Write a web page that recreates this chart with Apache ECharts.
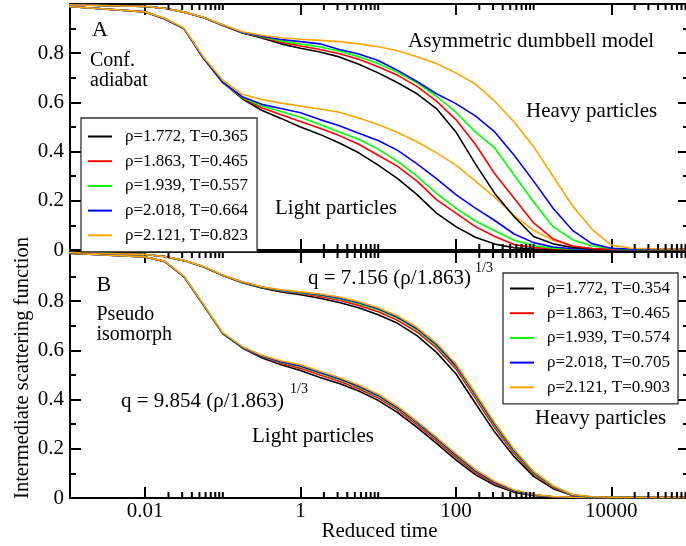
<!DOCTYPE html>
<html><head><meta charset="utf-8">
<script src="https://cdn.jsdelivr.net/npm/echarts@6/dist/echarts.min.js"></script>
<style>html,body{margin:0;padding:0;background:#fff}#c{width:686px;height:546px}</style>
</head><body><div id="c"></div>
<script>
// ---------------- data ----------------
const times = [0.001, 0.01, 0.0178, 0.0316, 0.0562, 0.1, 0.178, 0.316, 0.562, 1, 1.78, 3.16, 5.62, 10, 17.8, 31.6, 56.2, 100, 178, 316, 562, 1000, 1780, 3160, 5620, 10000, 17800, 100000];

const namesA = ['ρ=1.772, T=0.365', 'ρ=1.863, T=0.465', 'ρ=1.939, T=0.557', 'ρ=2.018, T=0.664', 'ρ=2.121, T=0.823'];
const namesB = ['ρ=1.772, T=0.354', 'ρ=1.863, T=0.465', 'ρ=1.939, T=0.574', 'ρ=2.018, T=0.705', 'ρ=2.121, T=0.903'];
const colors = ['#000000', '#ff0000', '#00ff00', '#0000ff', '#ffa500'];

// Panel A (configurational adiabat) - light particles
const aLightBlack  = [0.990, 0.968, 0.940, 0.900, 0.780, 0.680, 0.615, 0.568, 0.535, 0.500, 0.470, 0.435, 0.395, 0.345, 0.290, 0.225, 0.150, 0.095, 0.052, 0.024, 0.009, 0.004, 0.003, 0.002, 0.002, 0.002, 0.002, 0.002];
const aLightRed    = [0.990, 0.968, 0.940, 0.900, 0.780, 0.680, 0.618, 0.578, 0.550, 0.522, 0.495, 0.465, 0.430, 0.385, 0.340, 0.280, 0.205, 0.150, 0.095, 0.055, 0.022, 0.010, 0.005, 0.003, 0.002, 0.002, 0.002, 0.002];
const aLightGreen  = [0.990, 0.968, 0.940, 0.900, 0.780, 0.680, 0.620, 0.585, 0.563, 0.540, 0.510, 0.480, 0.450, 0.410, 0.360, 0.300, 0.230, 0.170, 0.118, 0.078, 0.040, 0.018, 0.007, 0.004, 0.003, 0.002, 0.002, 0.002];
const aLightBlue   = [0.990, 0.968, 0.940, 0.900, 0.780, 0.682, 0.623, 0.592, 0.575, 0.558, 0.530, 0.505, 0.475, 0.445, 0.405, 0.350, 0.290, 0.225, 0.170, 0.120, 0.065, 0.030, 0.012, 0.005, 0.003, 0.002, 0.002, 0.002];
const aLightOrange = [0.990, 0.968, 0.942, 0.902, 0.785, 0.690, 0.633, 0.612, 0.597, 0.585, 0.573, 0.560, 0.537, 0.510, 0.478, 0.440, 0.395, 0.345, 0.280, 0.215, 0.140, 0.080, 0.040, 0.016, 0.006, 0.003, 0.002, 0.002];

// Panel A - heavy particles
const aHeavyBlack  = [0.997, 0.990, 0.983, 0.967, 0.945, 0.913, 0.882, 0.862, 0.838, 0.820, 0.805, 0.785, 0.755, 0.720, 0.680, 0.635, 0.575, 0.480, 0.350, 0.230, 0.135, 0.055, 0.025, 0.010, 0.005, 0.003, 0.003, 0.003];
const aHeavyRed    = [0.997, 0.990, 0.983, 0.967, 0.945, 0.914, 0.883, 0.865, 0.845, 0.829, 0.815, 0.798, 0.775, 0.745, 0.710, 0.665, 0.605, 0.530, 0.430, 0.310, 0.210, 0.110, 0.045, 0.016, 0.006, 0.003, 0.003, 0.003];
const aHeavyGreen  = [0.997, 0.990, 0.983, 0.967, 0.945, 0.915, 0.884, 0.867, 0.850, 0.837, 0.826, 0.808, 0.786, 0.758, 0.722, 0.680, 0.625, 0.560, 0.480, 0.415, 0.305, 0.195, 0.095, 0.042, 0.016, 0.006, 0.003, 0.003];
const aHeavyBlue   = [0.997, 0.990, 0.983, 0.967, 0.945, 0.915, 0.885, 0.869, 0.856, 0.847, 0.838, 0.815, 0.797, 0.770, 0.730, 0.685, 0.635, 0.595, 0.545, 0.480, 0.385, 0.280, 0.170, 0.080, 0.026, 0.007, 0.004, 0.003];
const aHeavyOrange = [0.997, 0.990, 0.983, 0.967, 0.946, 0.916, 0.887, 0.873, 0.863, 0.857, 0.852, 0.847, 0.838, 0.826, 0.810, 0.786, 0.758, 0.720, 0.675, 0.605, 0.520, 0.420, 0.300, 0.180, 0.085, 0.020, 0.007, 0.003];

// Panel B (pseudo isomorph) - light particles
const bLightBlack  = [0.995, 0.980, 0.962, 0.900, 0.785, 0.668, 0.610, 0.570, 0.542, 0.518, 0.490, 0.465, 0.435, 0.397, 0.347, 0.287, 0.222, 0.155, 0.095, 0.052, 0.023, 0.010, 0.004, 0.003, 0.002, 0.002, 0.002, 0.002];
const bLightRed    = [0.995, 0.980, 0.962, 0.900, 0.785, 0.668, 0.612, 0.574, 0.548, 0.527, 0.500, 0.475, 0.444, 0.407, 0.357, 0.297, 0.232, 0.165, 0.102, 0.058, 0.027, 0.011, 0.005, 0.003, 0.002, 0.002, 0.002, 0.002];
const bLightGreen  = [0.995, 0.980, 0.962, 0.900, 0.784, 0.667, 0.612, 0.576, 0.552, 0.534, 0.507, 0.482, 0.451, 0.414, 0.364, 0.304, 0.239, 0.172, 0.108, 0.062, 0.029, 0.012, 0.005, 0.003, 0.002, 0.002, 0.002, 0.002];
const bLightBlue   = [0.995, 0.980, 0.962, 0.900, 0.786, 0.669, 0.613, 0.577, 0.554, 0.537, 0.510, 0.485, 0.454, 0.417, 0.367, 0.307, 0.242, 0.175, 0.111, 0.064, 0.030, 0.013, 0.005, 0.003, 0.002, 0.002, 0.002, 0.002];
const bLightOrange = [0.995, 0.980, 0.963, 0.902, 0.788, 0.672, 0.616, 0.580, 0.558, 0.542, 0.515, 0.490, 0.459, 0.422, 0.372, 0.312, 0.247, 0.180, 0.116, 0.068, 0.033, 0.014, 0.006, 0.003, 0.002, 0.002, 0.002, 0.002];

// Panel B - heavy particles
const bHeavyBlack  = [0.998, 0.990, 0.982, 0.965, 0.940, 0.904, 0.875, 0.854, 0.838, 0.826, 0.812, 0.795, 0.773, 0.745, 0.710, 0.660, 0.592, 0.505, 0.385, 0.268, 0.168, 0.088, 0.038, 0.010, 0.004, 0.003, 0.003, 0.003];
const bHeavyRed    = [0.998, 0.990, 0.982, 0.965, 0.940, 0.905, 0.877, 0.857, 0.842, 0.831, 0.819, 0.804, 0.783, 0.757, 0.722, 0.675, 0.610, 0.525, 0.405, 0.285, 0.180, 0.097, 0.043, 0.011, 0.004, 0.003, 0.003, 0.003];
const bHeavyGreen  = [0.998, 0.990, 0.982, 0.965, 0.940, 0.905, 0.877, 0.857, 0.843, 0.834, 0.824, 0.810, 0.790, 0.765, 0.731, 0.683, 0.618, 0.534, 0.414, 0.294, 0.188, 0.102, 0.046, 0.012, 0.004, 0.003, 0.003, 0.003];
const bHeavyBlue   = [0.998, 0.990, 0.982, 0.965, 0.940, 0.905, 0.878, 0.858, 0.844, 0.836, 0.826, 0.813, 0.794, 0.769, 0.735, 0.688, 0.623, 0.539, 0.420, 0.300, 0.193, 0.105, 0.048, 0.013, 0.004, 0.003, 0.003, 0.003];
const bHeavyOrange = [0.998, 0.990, 0.982, 0.966, 0.941, 0.906, 0.879, 0.859, 0.846, 0.838, 0.829, 0.817, 0.798, 0.773, 0.740, 0.694, 0.630, 0.546, 0.427, 0.306, 0.198, 0.108, 0.050, 0.014, 0.005, 0.003, 0.003, 0.003];

// axes
const xMin = 0.00108, xMax = 100000;
const xTickValues = [0.01, 1, 100, 10000];
const xTickLabels = ['0.01', '1', '100', '10000'];
const xMinorTicks = [0.02, 0.03, 0.04, 0.05, 0.06, 0.07, 0.08, 0.09, 0.1,
                     2, 3, 4, 5, 6, 7, 8, 9, 10,
                     200, 300, 400, 500, 600, 700, 800, 900, 1000,
                     20000, 30000, 40000, 50000, 60000, 70000, 80000, 90000];
const yTickValues = [0, 0.2, 0.4, 0.6, 0.8];
const yTickLabels = ['0', '0.2', '0.4', '0.6', '0.8'];

// ---------------- chart ----------------
const FONT = '"Liberation Serif", "Times New Roman", serif';
const panels = [
  { names: namesA, light: [aLightBlack, aLightRed, aLightGreen, aLightBlue, aLightOrange],
    heavy: [aHeavyBlack, aHeavyRed, aHeavyGreen, aHeavyBlue, aHeavyOrange] },
  { names: namesB, light: [bLightBlack, bLightRed, bLightGreen, bLightBlue, bLightOrange],
    heavy: [bHeavyBlack, bHeavyRed, bHeavyGreen, bHeavyBlue, bHeavyOrange] }
];
const grids = [
  { left: 70, top: 4, width: 619, height: 246, containLabel: false, outerBoundsMode: 'none' },
  { left: 70, top: 252, width: 619, height: 246, containLabel: false, outerBoundsMode: 'none' }
];

function near(a, b) { return Math.abs(a - b) <= 1e-6 * Math.max(1, Math.abs(b)); }
const axisLine = { show: true, onZero: false, lineStyle: { color: '#000', width: 2 } };

const xAxis = [], yAxis = [];
grids.forEach((g, p) => {
  ['bottom', 'top'].forEach(pos => {
    xAxis.push({
      type: 'log', logBase: 100, gridIndex: p, position: pos, min: xMin, max: xMax, splitNumber: 4,
      axisLine: axisLine, splitLine: { show: false },
      axisTick: { show: true, inside: true, length: 11, lineStyle: { color: '#000', width: 2 } },
      minorTick: { show: false },
      axisLabel: {
        show: (p === 1 && pos === 'bottom'), margin: 3, color: '#000', fontFamily: FONT, fontSize: 21,
        formatter: v => { const i = xTickValues.findIndex(t => near(v, t)); return i >= 0 ? xTickLabels[i] : ''; }
      }
    });
  });
  ['left', 'right'].forEach(pos => {
    yAxis.push({
      type: 'value', gridIndex: p, position: pos, min: 0, max: 1, interval: 0.2,
      axisLine: axisLine, splitLine: { show: false },
      axisTick: { show: true, inside: true, length: 11, lineStyle: { color: '#000', width: 2 } },
      minorTick: { show: true, splitNumber: 2, length: 6, lineStyle: { color: '#000', width: 2 } },
      axisLabel: {
        show: pos === 'left', margin: 6, color: '#000', fontFamily: FONT, fontSize: 21,
        formatter: v => { const i = yTickValues.findIndex(t => near(v, t)); return i >= 0 ? yTickLabels[i] : ''; }
      }
    });
  });
});

const series = [];
panels.forEach((pn, p) => {
  ['light', 'heavy'].forEach(set => {
    pn[set].forEach((vals, i) => {
      series.push({
        type: 'line', name: pn.names[i], xAxisIndex: p * 2, yAxisIndex: p * 2,
        data: times.map((t, k) => [t, vals[k]]),
        symbol: 'none', showSymbol: false, smooth: false, animation: false,
        lineStyle: { color: colors[i], width: 1.6 }, itemStyle: { color: colors[i] },
        emphasis: { disabled: true }, z: 3
      });
    });
  });
  series.push({
    type: 'custom', xAxisIndex: p * 2, yAxisIndex: p * 2, silent: true, animation: false, clip: false, z: 5,
    data: xMinorTicks.map(v => [v, 0.5]),
    renderItem: (params, api) => {
      const x = api.value(0);
      const top = api.coord([x, 1]);
      const bot = api.coord([x, 0]);
      const st = { stroke: '#000', lineWidth: 2 };
      return { type: 'group', children: [
        { type: 'line', shape: { x1: top[0], y1: top[1], x2: top[0], y2: top[1] + 6 }, style: st },
        { type: 'line', shape: { x1: bot[0], y1: bot[1], x2: bot[0], y2: bot[1] - 6 }, style: st }
      ] };
    }
  });
});

function txt(text, x, baseline, size, align, extra) {
  return Object.assign({
    type: 'text', x: x, y: baseline - 0.31 * size, z: 20,
    style: { text: text, font: size + 'px ' + FONT, fill: '#000',
             textAlign: align || 'left', textVerticalAlign: 'middle', verticalAlign: 'middle' }
  }, extra || {});
}

const graphic = [
  txt('A', 92, 37.5, 22),
  txt('Conf.', 90, 66.5, 20),
  txt('adiabat', 90, 86.5, 20),
  txt('Asymmetric dumbbell model', 408, 47.5, 21),
  txt('Heavy particles', 526, 117.5, 21),
  txt('Light particles', 275, 214.5, 21),
  txt('B', 96.5, 292.5, 22),
  txt('Pseudo', 96.5, 320.5, 20),
  txt('isomorph', 96.5, 340.5, 20),
  txt('q = 7.156 (ρ/1.863)', 308, 285, 21),
  txt('1/3', 475, 272.5, 14),
  txt('q = 9.854 (ρ/1.863)', 121, 407.5, 21),
  txt('1/3', 290, 394, 14),
  txt('Light particles', 252, 442.5, 21),
  txt('Heavy particles', 535, 424.5, 21),
  txt('Reduced time', 379.5, 538, 21, 'center'),
  { type: 'text', x: 22.5, y: 368, rotation: Math.PI / 2, z: 20,
    style: { text: 'Intermediate scattering function', font: '20.5px ' + FONT, fill: '#000',
             textAlign: 'center', textVerticalAlign: 'middle', verticalAlign: 'middle' } }
];

function legend(names, left, top, padding) {
  return {
    data: names, orient: 'vertical', left: left, top: top, padding: padding,
    icon: 'path://M0,0 M0,6 L24,6 L24,8 L0,8 Z M24,14',
    itemWidth: 24, itemHeight: 14, itemGap: 7.7, selectedMode: false,
    backgroundColor: '#fff', borderColor: '#333', borderWidth: 1.3, borderRadius: 0, z: 10,
    textStyle: { fontFamily: FONT, fontSize: 17, color: '#000', lineHeight: 14, padding: [0, 0, 0, 8] }
  };
}

const chart = echarts.init(document.getElementById('c'), null, { renderer: 'canvas' });
chart.setOption({
  backgroundColor: '#fff',
  animation: false,
  grid: grids,
  xAxis: xAxis,
  yAxis: yAxis,
  legend: [legend(namesA, 81, 118, [10, 9, 8, 7]), legend(namesB, 503, 273, [7, 8, 8, 7])],
  series: series,
  graphic: graphic
});
</script>
</body></html>
